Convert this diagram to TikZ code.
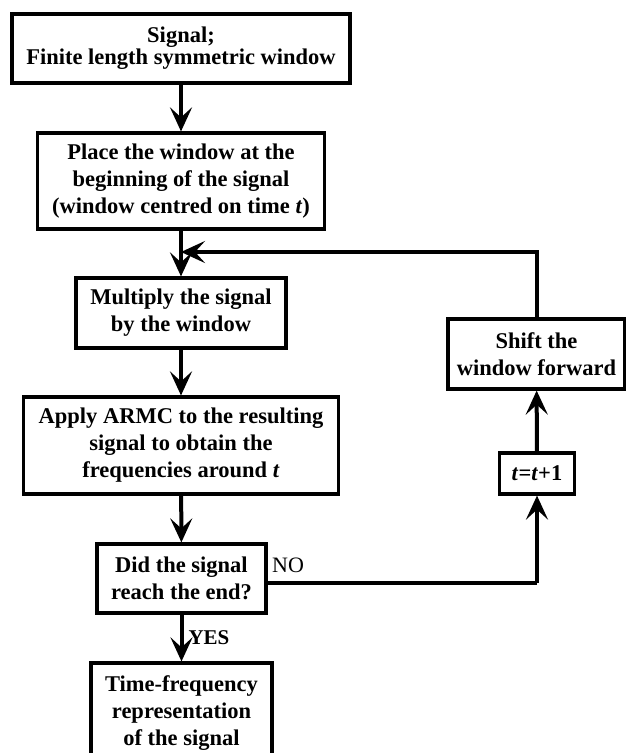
\documentclass[tikz,border=0pt]{standalone}
\usepackage{fontspec}
\setmainfont{Liberation Serif}
\usetikzlibrary{arrows.meta}
\begin{document}
\begin{tikzpicture}[x=1pt,y=-1pt,
  box/.style={draw, line width=3.2pt, rectangle, inner sep=0pt, align=center,
    font=\bfseries\fontsize{22.5}{27}\selectfont},
  flow/.style={line width=4pt, -{Stealth[length=24pt,width=22pt,inset=10pt]}},
  link/.style={line width=4pt},
  lbl/.style={inner sep=0pt, font=\fontsize{22}{26}\selectfont}]
\clip (0,0) rectangle (626,753);
\fill[white] (0,0) rectangle (626,753);

% main column
\node[box, minimum width=338pt, minimum height=69pt] (src) at (181,48.5)
  {Signal;\\[-5pt]Finite length symmetric window};
\node[box, minimum width=287pt, minimum height=96pt] (place) at (181,181)
  {Place the window at the\\beginning of the signal\\(window centred on time \textit{t})};
\node[box, minimum width=210pt, minimum height=70pt] (mult) at (181,313)
  {Multiply the signal\\by the window};
\node[box, minimum width=315pt, minimum height=97pt] (armc) at (181,445.5)
  {Apply ARMC to the resulting\\signal to obtain the\\frequencies around \textit{t}};
\node[box, minimum width=169pt, minimum height=69pt] (test) at (181.5,578.5)
  {Did the signal\\reach the end?};
\node[box, minimum width=181pt, minimum height=100pt] (tfr) at (181.5,713)
  {Time-frequency\\representation\\of the signal};

% loop column
\node[box, minimum width=177pt, minimum height=70pt] (shift) at (536.5,354)
  {Shift the\\window forward};
\node[box, minimum width=75pt, minimum height=41pt] (inc) at (537,473.5)
  {\textit{t}=\textit{t}+1};

\coordinate (join) at (181,252);
\coordinate (turn) at (537,252);
\coordinate (noout) at (266,583);
\coordinate (nocorner) at (537,583);

% connectors
\draw[flow] (src) -- (place);
\draw[flow] (place) -- (mult);
\draw[flow] (mult) -- (armc);
\draw[flow] (armc) -- (test);
\draw[flow] (test) -- node[lbl, right=5pt, font=\bfseries\fontsize{21}{25}\selectfont] {YES} (tfr);
\draw[link] (noout) -- (nocorner);
\draw[flow] (nocorner) -- (inc);
\draw[flow] (inc) -- (shift);
\draw[flow] (shift.north -| turn) -- (turn) -- (join);

\node[lbl, anchor=west] (nolbl) at (272,565) {NO};
\end{tikzpicture}
\end{document}
